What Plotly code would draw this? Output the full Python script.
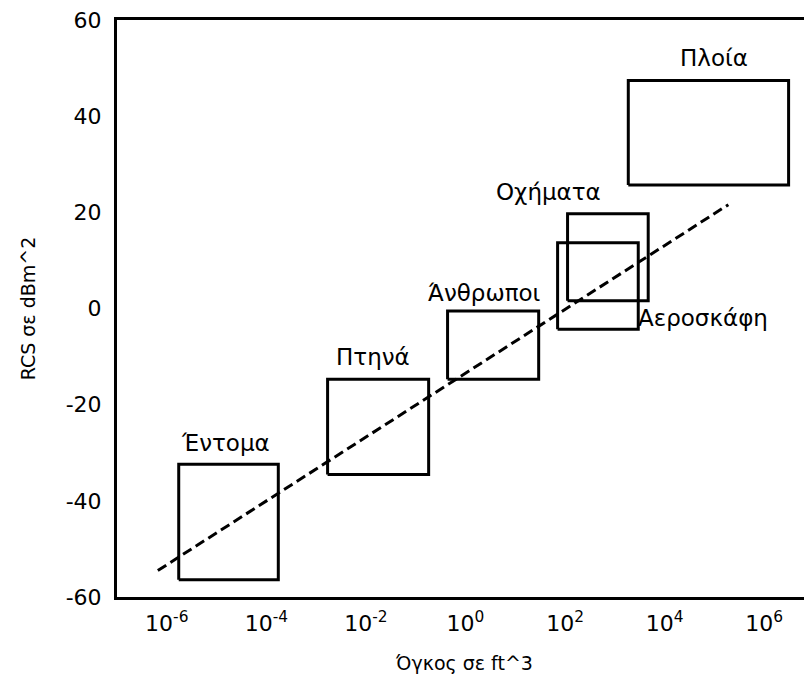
import plotly.graph_objects as go

# Target classes: volume range (log10 ft^3) and RCS range (dBm^2)
categories = ["Έντομα", "Πτηνά", "Άνθρωποι", "Οχήματα", "Αεροσκάφη", "Πλοία"]
vol_min_exp = [-5.76, -2.77, -0.36, 2.05, 1.85, 3.27]
vol_max_exp = [-3.76, -0.74, 1.47, 3.67, 3.47, 6.49]
rcs_min = [-56.4, -34.5, -14.7, 1.6, -4.3, 25.7]
rcs_max = [-32.4, -14.7, -0.5, 19.7, 13.7, 47.4]

# Label positions (log10 ft^3, dBm^2)
label_x_exp = [-4.83, -1.85, 0.38, 1.67, 4.77, 5.0]
label_y = [-28.0, -10.1, 3.2, 24.3, -2.0, 52.0]

# Trend line endpoints
trend_x_exp = [-6.18, 5.28]
trend_y = [-54.5, 21.6]

x_tick_exp = [-6, -4, -2, 0, 2, 4, 6]
x_tick_text = ["10<sup>-6</sup>", "10<sup>-4</sup>", "10<sup>-2</sup>", "10<sup>0</sup>",
               "10<sup>2</sup>", "10<sup>4</sup>", "10<sup>6</sup>"]
y_ticks = [-60, -40, -20, 0, 20, 40, 60]
y_tick_text = ["-60", "-40", "-20", "0", "20", "40", "60"]

FONT = "DejaVu Sans"

fig = go.Figure()

for i, name in enumerate(categories):
    x0, x1 = 10 ** vol_min_exp[i], 10 ** vol_max_exp[i]
    y0, y1 = rcs_min[i], rcs_max[i]
    fig.add_trace(go.Scatter(
        x=[x0, x1, x1, x0, x0], y=[y0, y0, y1, y1, y0],
        mode="lines", line=dict(color="black", width=3),
        name=name, showlegend=False, hoverinfo="skip"))

fig.add_trace(go.Scatter(
    x=[10 ** e for e in trend_x_exp], y=trend_y, mode="lines",
    line=dict(color="black", width=3, dash="10px,5px"),
    showlegend=False, hoverinfo="skip"))

for i, name in enumerate(categories):
    fig.add_annotation(x=label_x_exp[i], y=label_y[i], xref="x", yref="y",
                       text=name, showarrow=False, xanchor="center", yanchor="middle",
                       font=dict(family=FONT, size=23, color="black"))

# the page body adds an 8px offset; size the figure so the plot area lands where the reference has it
fig.update_layout(
    width=804, height=689,
    margin=dict(l=109, r=0, t=12, b=100, autoexpand=False),
    paper_bgcolor="white", plot_bgcolor="white",
    font=dict(family=FONT, color="black"),
    xaxis=dict(type="log", range=[-7, 6.96], tickvals=[10 ** e for e in x_tick_exp],
               ticktext=x_tick_text, showgrid=False, zeroline=False, automargin=False,
               showline=True, linecolor="black", linewidth=3, mirror=True,
               ticks="outside", ticklen=5, tickcolor="rgba(0,0,0,0)",
               ticklabeloverflow="allow",
               tickfont=dict(family=FONT, size=22, color="black"),
               title=dict(text="Όγκος σε ft^3", font=dict(family=FONT, size=19, color="black"),
                          standoff=22)),
    yaxis=dict(range=[-60, 60], tickvals=y_ticks, ticktext=y_tick_text,
               showgrid=False, zeroline=False, automargin=False,
               showline=True, linecolor="black", linewidth=3, mirror=False,
               ticks="outside", ticklen=8, tickcolor="rgba(0,0,0,0)",
               ticklabeloverflow="allow",
               tickfont=dict(family=FONT, size=22, color="black"),
               title=dict(text="RCS σε dBm^2", font=dict(family=FONT, size=19, color="black"),
                          standoff=26)),
)

fig.write_html("out.html")
